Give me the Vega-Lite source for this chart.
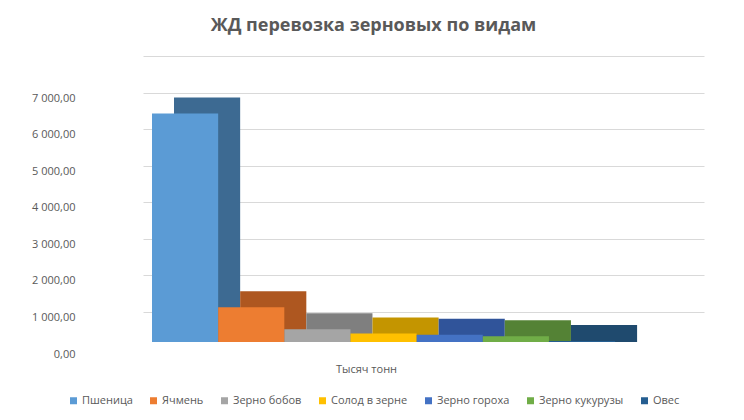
{
  "$schema": "https://vega.github.io/schema/vega-lite/v6.json",
  "description": "ЖД перевозка зерновых по видам, тысяч тонн",
  "autosize": {"type": "none"},
  "padding": {"left": 143, "top": 86, "right": 40, "bottom": 78},
  "width": 561,
  "height": 256,
  "background": "white",
  "title": {
    "text": "ЖД перевозка зерновых по видам",
    "fontSize": 18,
    "font": "Open Sans",
    "fontWeight": "bold",
    "color": "#595959",
    "offset": 51,
    "dx": -50,
    "anchor": "middle"
  },
  "data": {
    "values": [
      {"kind": "Пшеница", "value": 6250},
      {"kind": "Ячмень", "value": 950},
      {"kind": "Зерно бобов", "value": 350},
      {"kind": "Солод в зерне", "value": 230},
      {"kind": "Зерно гороха", "value": 200},
      {"kind": "Зерно кукурузы", "value": 160},
      {"kind": "Овес", "value": 30}
    ]
  },
  "encoding": {
    "x": {
      "field": "kind",
      "type": "nominal",
      "title": "Тысяч тонн",
      "sort": ["Пшеница", "Ячмень", "Зерно бобов", "Солод в зерне", "Зерно гороха", "Зерно кукурузы", "Овес"],
      "scale": {"paddingInner": 0, "paddingOuter": 0.74, "align": 0.092},
      "axis": {"labels": false, "domain": false, "ticks": false, "titleX": 223, "titleY": 27, "titleBaseline": "middle", "titleFontSize": 11, "titleFontWeight": "normal", "titleColor": "#595959"}
    },
    "y": {
      "field": "value",
      "type": "quantitative",
      "title": null,
      "scale": {"domain": [0, 7000], "nice": false},
      "axis": {"format": ",.2f", "values": [0, 1000, 2000, 3000, 4000, 5000, 6000, 7000], "domain": false, "ticks": false, "tickOffset": -30, "labelPadding": 68, "labelOffset": 42, "labelFontSize": 11}
    }
  },
  "layer": [
    {
      "mark": {"type": "bar", "xOffset": 22, "x2Offset": 22, "yOffset": -16, "y2Offset": 0},
      "encoding": {
        "y2": {"datum": 0},
        "color": {
          "field": "kind",
          "type": "nominal",
          "legend": null,
          "sort": ["Пшеница", "Ячмень", "Зерно бобов", "Солод в зерне", "Зерно гороха", "Зерно кукурузы", "Овес"],
          "scale": {"range": ["#3D6A92", "#AE5720", "#7F7F7F", "#C49500", "#30549A", "#548235", "#1F4A6E"]}
        }
      }
    },
    {
      "mark": {"type": "bar"},
      "encoding": {
        "color": {
          "field": "kind",
          "type": "nominal",
          "title": null,
          "sort": ["Пшеница", "Ячмень", "Зерно бобов", "Солод в зерне", "Зерно гороха", "Зерно кукурузы", "Овес"],
          "scale": {"range": ["#5B9BD5", "#ED7D31", "#A5A5A5", "#FFC000", "#4472C4", "#70AD47", "#255E91"]},
          "legend": {"orient": "none", "legendX": -75, "legendY": 309, "direction": "horizontal", "symbolType": "square", "symbolSize": 49, "columnPadding": 15, "labelOffset": 3, "labelFontSize": 11}
        }
      }
    }
  ],
  "resolve": {"scale": {"color": "independent"}},
  "config": {
    "font": "Open Sans",
    "locale": {"number": {"decimal": ",", "thousands": " ", "grouping": [3], "currency": ["", ""]}},
    "view": {"stroke": null},
    "axis": {"labelColor": "#595959", "gridColor": "#D9D9D9", "labelFont": "Open Sans"},
    "legend": {"labelColor": "#595959", "labelFont": "Open Sans", "symbolStrokeWidth": 0}
  }
}
